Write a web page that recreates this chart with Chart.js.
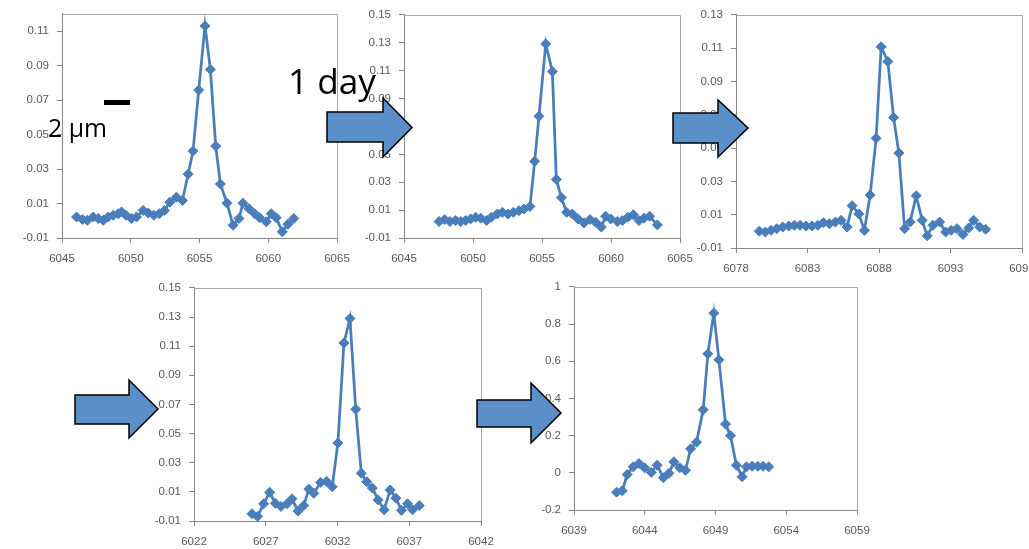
<!DOCTYPE html>
<html lang="en">
  <head>
    <meta charset="UTF-8" />
    <title>Peak spectra, day by day</title>
    <style>
      * {
        margin: 0;
        padding: 0;
      }
      body {
        width: 1029px;
        height: 549px;
        overflow: hidden;
        position: relative;
        background: white;
        font-family: "Liberation Sans", sans-serif;
      }
      canvas {
        position: absolute;
      }
      #overlay {
        position: absolute;
        left: 0;
        top: 0;
      }
    </style>
  </head>
  <body>
    <svg id="overlay" width="1029" height="549"></svg>

    <script src="https://cdn.jsdelivr.net/npm/chart.js"></script>

    <script>
      // ---- data ----
      const xs1 = [6046.06, 6046.5, 6046.84, 6047.27, 6047.64, 6048.0, 6048.36, 6048.73, 6049.09, 6049.33, 6049.65, 6050.06, 6050.42, 6050.9, 6051.27, 6051.68, 6052.07, 6052.45, 6052.84, 6053.32, 6053.76, 6054.17, 6054.53, 6054.94, 6055.4, 6055.79, 6056.18, 6056.52, 6057.0, 6057.44, 6057.87, 6058.16, 6058.6, 6059.01, 6059.37, 6059.86, 6060.22, 6060.58, 6061.02, 6061.43, 6061.86];
      const ys1 = [0.0022, 0.0007, 0.0003, 0.0022, 0.0013, 0.0003, 0.0022, 0.0032, 0.0041, 0.0051, 0.0032, 0.0013, 0.0022, 0.006, 0.0045, 0.0032, 0.0041, 0.006, 0.0108, 0.0137, 0.0118, 0.027, 0.0404, 0.0758, 0.113, 0.0878, 0.0433, 0.0213, 0.0102, -0.0026, 0.0013, 0.0102, 0.007, 0.0041, 0.0018, -0.0006, 0.0041, 0.0018, -0.0064, -0.002, 0.0013];

      const xs2 = [6047.54, 6047.95, 6048.33, 6048.74, 6049.11, 6049.47, 6049.83, 6050.19, 6050.56, 6050.99, 6051.33, 6051.76, 6052.13, 6052.54, 6052.92, 6053.33, 6053.7, 6054.13, 6054.47, 6054.78, 6055.27, 6055.75, 6056.04, 6056.4, 6056.79, 6057.2, 6057.61, 6058.04, 6058.48, 6058.89, 6059.3, 6059.61, 6059.98, 6060.46, 6060.82, 6061.23, 6061.62, 6062.03, 6062.39, 6062.8, 6063.36];
      const ys2 = [0.0018, 0.0032, 0.0018, 0.0025, 0.0018, 0.0025, 0.0037, 0.0049, 0.0042, 0.0025, 0.0049, 0.0072, 0.0084, 0.0072, 0.0084, 0.0096, 0.0108, 0.0126, 0.045, 0.0773, 0.1292, 0.1094, 0.032, 0.019, 0.0084, 0.0072, 0.0037, 0.0008, 0.0032, 0.0013, -0.0022, 0.0056, 0.0037, 0.0018, 0.0025, 0.0049, 0.0067, 0.0025, 0.0042, 0.0056, -0.0006];

      const xs3 = [6079.63, 6080.05, 6080.45, 6080.85, 6081.27, 6081.69, 6082.08, 6082.48, 6082.9, 6083.32, 6083.72, 6084.11, 6084.53, 6084.95, 6085.35, 6085.77, 6086.12, 6086.59, 6086.98, 6087.38, 6087.8, 6088.15, 6088.62, 6089.02, 6089.39, 6089.79, 6090.18, 6090.6, 6091.02, 6091.37, 6091.77, 6092.24, 6092.66, 6093.05, 6093.45, 6093.87, 6094.27, 6094.62, 6095.04, 6095.46];
      const ys3 = [0.0001, -0.0004, 0.0006, 0.0016, 0.0026, 0.0032, 0.0036, 0.0036, 0.0032, 0.0032, 0.0036, 0.0052, 0.0046, 0.0056, 0.0066, 0.0026, 0.0154, 0.0105, 0.0006, 0.0218, 0.0559, 0.1108, 0.102, 0.0684, 0.047, 0.0016, 0.0056, 0.0214, 0.0066, -0.0027, 0.0036, 0.0056, -0.0004, 0.0006, 0.0016, -0.0019, 0.002, 0.0066, 0.0026, 0.0012];

      const xs4 = [6026.04, 6026.43, 6026.85, 6027.27, 6027.67, 6028.06, 6028.48, 6028.83, 6029.25, 6029.65, 6030.0, 6030.35, 6030.82, 6031.24, 6031.63, 6032.03, 6032.45, 6032.87, 6033.27, 6033.66, 6034.04, 6034.43, 6034.83, 6035.25, 6035.67, 6036.07, 6036.46, 6036.88, 6037.23, 6037.7];
      const ys4 = [-0.005, -0.0068, 0.0018, 0.0097, 0.0022, 0.0, 0.0018, 0.0052, -0.0032, 0.0006, 0.0119, 0.009, 0.0165, 0.0172, 0.0135, 0.0436, 0.1122, 0.129, 0.0667, 0.0228, 0.0169, 0.0126, 0.0045, -0.0023, 0.0113, 0.0057, -0.0027, 0.0018, -0.0023, 0.0006];

      const xs5 = [6042.01, 6042.41, 6042.76, 6043.19, 6043.59, 6043.99, 6044.46, 6044.88, 6045.31, 6045.71, 6046.06, 6046.48, 6046.88, 6047.24, 6047.66, 6048.13, 6048.46, 6048.88, 6049.24, 6049.71, 6050.06, 6050.48, 6050.88, 6051.19, 6051.59, 6051.99, 6052.36, 6052.76];
      const ys5 = [-0.104, -0.097, -0.009, 0.032, 0.05, 0.027, 0.002, 0.041, -0.026, -0.003, 0.059, 0.027, 0.014, 0.129, 0.165, 0.339, 0.64, 0.859, 0.608, 0.262, 0.2, 0.041, -0.021, 0.032, 0.035, 0.035, 0.035, 0.032];

      // tick labels
      const xTicks1 = [6045, 6050, 6055, 6060, 6065];
      const xTicks3 = [6078, 6083, 6088, 6093, 6098];
      const xTicks4 = [6022, 6027, 6032, 6037, 6042];
      const xTicks5 = [6039, 6044, 6049, 6054, 6059];
      const yTicks1 = [-0.01, 0.01, 0.03, 0.05, 0.07, 0.09, 0.11];
      const yTicks2 = [-0.01, 0.01, 0.03, 0.05, 0.07, 0.09, 0.11, 0.13, 0.15];
      const yTicks3 = [-0.01, 0.01, 0.03, 0.05, 0.07, 0.09, 0.11, 0.13];
      const yTicks5 = [-0.2, 0, 0.2, 0.4, 0.6, 0.8, 1];

      // panel placement: plot area box in page pixels + axis ranges
      const panels = [
        { xs: xs1, ys: ys1, box: [62, 11, 337, 238], x: [6045, 6065], y: [-0.01, 0.12], xt: xTicks1, yt: yTicks1 },
        { xs: xs2, ys: ys2, box: [404, 12, 680, 238], x: [6045, 6065], y: [-0.01, 0.15], xt: xTicks1, yt: yTicks2 },
        { xs: xs3, ys: ys3, box: [736, 12, 1022, 248], x: [6078, 6098], y: [-0.01, 0.13], xt: xTicks3, yt: yTicks3 },
        { xs: xs4, ys: ys4, box: [194, 285, 481, 521], x: [6022, 6042], y: [-0.01, 0.15], xt: xTicks4, yt: yTicks2 },
        { xs: xs5, ys: ys5, box: [574, 284, 857, 510], x: [6039, 6059], y: [-0.2, 1], xt: xTicks5, yt: yTicks5 }
      ];

      const BLUE = "#4a7ebb";
      const AXIS = "#868686";
      const Y_W = 62, TOP_PAD = 12, X_H = 30, RIGHT_PAD = 24;

      // light frame on the top and right of each plot area
      const frame = {
        id: "frame",
        beforeDatasetsDraw(chart) {
          const { ctx, chartArea: a } = chart;
          ctx.save();
          ctx.strokeStyle = "#a6a6a6";
          ctx.lineWidth = 1;
          ctx.beginPath();
          ctx.moveTo(Math.round(a.left), Math.round(a.top) + 0.5);
          ctx.lineTo(Math.round(a.right) + 0.5, Math.round(a.top) + 0.5);
          ctx.lineTo(Math.round(a.right) + 0.5, Math.round(a.bottom));
          ctx.stroke();
          ctx.restore();
        }
      };

      function axis(range, ticks, fitFn, pad) {
        return {
          type: "linear",
          min: range[0],
          max: range[1],
          afterBuildTicks: (s) => { s.ticks = ticks.map((v) => ({ value: v })); },
          afterFit: fitFn,
          grid: { drawOnChartArea: false, drawTicks: true, tickLength: 5, color: AXIS },
          border: { color: AXIS },
          ticks: {
            autoSkip: false,
            maxRotation: 0,
            padding: pad,
            color: "#595959",
            font: { family: "Liberation Sans", size: 11.5 },
            callback: (v) => String(v)
          }
        };
      }

      panels.forEach((p) => {
        const [l, t, r, b] = p.box;
        const cv = document.createElement("canvas");
        cv.width = r - l + Y_W + RIGHT_PAD;
        cv.height = b - t + TOP_PAD + X_H;
        cv.style.left = (l - Y_W) + "px";
        cv.style.top = (t - TOP_PAD) + "px";
        document.body.insertBefore(cv, document.getElementById("overlay"));

        new Chart(cv, {
          type: "scatter",
          data: {
            datasets: [{
              data: p.xs.map((x, i) => ({ x, y: p.ys[i] })),
              showLine: true,
              borderColor: BLUE,
              borderWidth: 2.75,
              backgroundColor: BLUE,
              pointStyle: "rectRot",
              pointRadius: 5,
              pointBorderWidth: 1,
              pointBorderColor: BLUE,
              pointBackgroundColor: BLUE
            }]
          },
          options: {
            responsive: false,
            animation: false,
            devicePixelRatio: 1,
            layout: { padding: { left: 0, top: TOP_PAD, right: RIGHT_PAD, bottom: 0 } },
            plugins: { legend: { display: false }, tooltip: { enabled: false } },
            scales: {
              x: axis(p.x, p.xt, (s) => { s.height = X_H; }, 9),
              y: axis(p.y, p.yt, (s) => { s.width = Y_W; }, 8)
            }
          },
          plugins: [frame]
        });
      });

      // ---- arrows, scale bar and captions drawn over the charts ----
      // [bodyLeft, bodyTop, bodyBottom, headBase, headTop, headBottom, tipX, tipY]
      const arrows = [
        [327, 112, 142, 383, 98, 157, 412, 127.5],
        [673, 113, 143, 718, 100, 157, 748, 128],
        [75, 395, 424, 129, 380, 438, 158, 409],
        [477, 400, 427, 531, 383, 443, 561, 413]
      ];
      const svg = document.getElementById("overlay");
      let html = "";
      arrows.forEach(([x0, b0, b1, xh, h0, h1, xt, yt]) => {
        const pts = [[x0, b0], [xh, b0], [xh, h0], [xt, yt], [xh, h1], [xh, b1], [x0, b1]];
        html += `<polygon points="${pts.map((q) => q.join(",")).join(" ")}" fill="#5a8fc8" stroke="#000" stroke-width="1.5" stroke-linejoin="miter"/>`;
      });
      html += `<rect x="104" y="100" width="26" height="5" fill="#000"/>`;
      html += `<text x="48" y="137" font-family="Open Sans" font-size="26" textLength="59" lengthAdjust="spacingAndGlyphs">2 µm</text>`;
      html += `<text x="288" y="94" font-family="Open Sans" font-size="34" textLength="88" lengthAdjust="spacingAndGlyphs">1 day</text>`;
      svg.innerHTML = html;
    </script>
  </body>
</html>
